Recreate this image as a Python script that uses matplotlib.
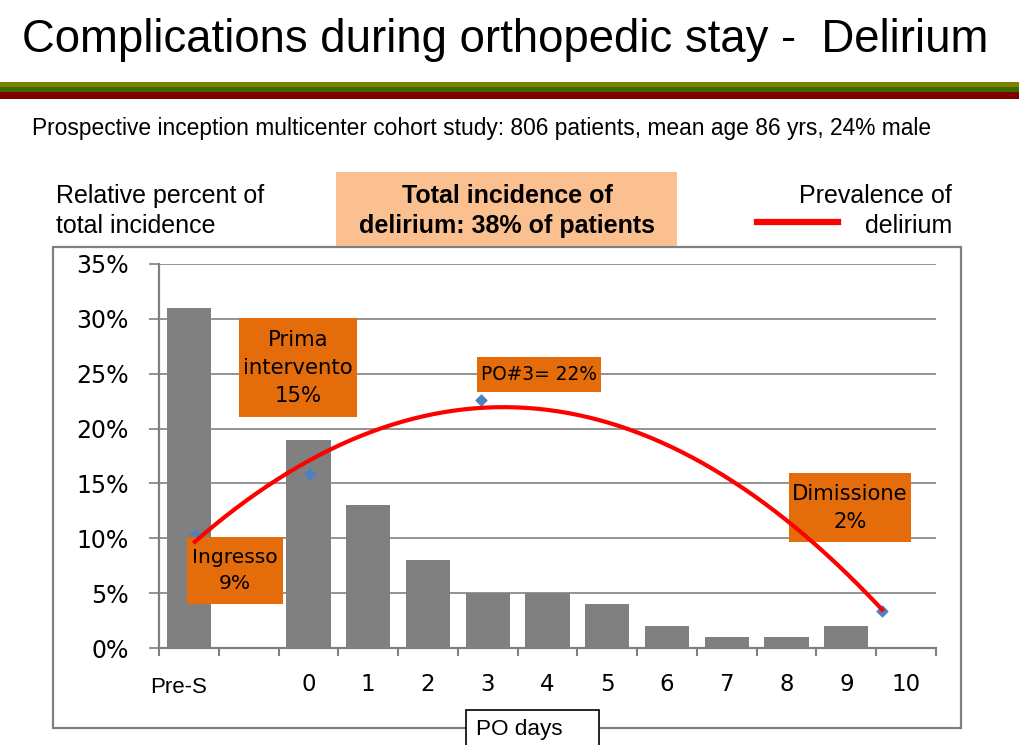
import numpy as np
import matplotlib.pyplot as plt
from matplotlib.patches import Rectangle

# data
categories = ['Pre-S', '', '0', '1', '2', '3', '4', '5', '6', '7', '8', '9', '10']
incidence = [31, np.nan, 19, 13, 8, 5, 5, 4, 2, 1, 1, 2, np.nan]  # relative % of total incidence

# prevalence markers (x in category units, value in %)
prev_x = [0.1, 2.03, 4.89, 11.6]
prev_y = [10.3, 15.9, 22.6, 3.4]

yticks = [0, 5, 10, 15, 20, 25, 30, 35]

W, H = 1020, 745
GRAY = '#808080'
ORANGE = '#E46C0A'
PEACH = '#FAC090'


def fx(px):
    return px / W


def fy(py):
    return 1 - py / H


fig = plt.figure(figsize=(W / 100, H / 100), dpi=100)

# title + stripes
fig.text(fx(22), fy(40), 'Complications during orthopedic stay -  Delirium',
         family='Liberation Sans', fontsize=32.8, va='center', ha='left')
for y0, y1, c in [(82, 87, '#7F8000'), (87, 92, '#3B6B00'), (92, 99, '#800000')]:
    fig.patches.append(Rectangle((0, fy(y1)), 1, (y1 - y0) / H, transform=fig.transFigure,
                                 color=c, lw=0))

fig.text(fx(32), fy(128), 'Prospective inception multicenter cohort study: 806 patients, mean age 86 yrs, 24% male',
         family='Liberation Sans', fontsize=16.4, va='center', ha='left')

# outer frame of the chart
fig.patches.append(Rectangle((fx(53), fy(728)), (961 - 53) / W, (728 - 247) / H,
                             transform=fig.transFigure, fill=False, ec=GRAY, lw=1.6))

fig.text(fx(56), fy(211), 'Relative percent of\ntotal incidence', family='Liberation Sans',
         fontsize=18, va='center', ha='left', linespacing=1.36)

fig.patches.append(Rectangle((fx(336), fy(246)), (677 - 336) / W, (246 - 172) / H,
                             transform=fig.transFigure, color=PEACH, lw=0))
fig.text(fx(507), fy(211), 'Total incidence of\ndelirium: 38% of patients', family='Liberation Sans',
         fontsize=18, fontweight='bold', va='center', ha='center', linespacing=1.36)

fig.text(fx(952), fy(211), 'Prevalence of\ndelirium', family='Liberation Sans',
         fontsize=18, va='center', ha='right', multialignment='right', linespacing=1.36)
fig.lines.append(plt.Line2D([fx(757), fx(838)], [fy(222), fy(222)], transform=fig.transFigure,
                            color='#FF0000', lw=4.5))

# chart
ax = fig.add_axes([fx(159), fy(648), (936 - 159) / W, (648 - 264) / H])
x = np.arange(len(categories))
ax.bar(x, incidence, width=0.74, color=GRAY, zorder=2)

ax.set_xlim(-0.5, 12.5)
ax.set_ylim(0, 35)
ax.set_yticks(yticks)
ax.set_yticklabels([f'{v}%' for v in yticks], family='DejaVu Sans', fontsize=17)
ax.yaxis.grid(True, color=GRAY, lw=1.2, zorder=0)
ax.set_axisbelow(True)
ax.tick_params(axis='y', length=7, width=1.2, color=GRAY, pad=15)

ax.set_xticks(np.arange(-0.5, 13, 1))
ax.set_xticklabels([])
ax.tick_params(axis='x', which='major', length=6, width=1.5, color=GRAY)
ax.set_xticks(x[1:], minor=True)
ax.set_xticklabels(categories[1:], minor=True, family='DejaVu Sans', fontsize=16.5)
ax.tick_params(axis='x', which='minor', length=0, pad=18)
# first category label sits a bit lower and left, in the other font
ax.text(x[0] - 0.17, -0.102, categories[0], transform=ax.get_xaxis_transform(),
        family='Liberation Sans', fontsize=16, ha='center', va='center')

for s in ['top', 'right']:
    ax.spines[s].set_visible(False)
for s in ['left', 'bottom']:
    ax.spines[s].set_color(GRAY)
    ax.spines[s].set_linewidth(1.6)

# trendline through the prevalence points
coef = np.polyfit(prev_x, prev_y, 2)
xs = np.linspace(prev_x[0], prev_x[-1], 200)
ax.plot(xs, np.polyval(coef, xs), color='#FF0000', lw=3, zorder=5, clip_on=False)
ax.scatter(prev_x, prev_y, marker='D', s=30, color='#4F81BD', zorder=3, clip_on=False)

# orange label boxes
boxes = [
    ((239, 318, 357, 417), 'Prima\nintervento\n15%', 15.3),
    ((187, 537, 283, 604), 'Ingresso\n9%', 14.6),
    ((477, 357, 601, 392), 'PO#3= 22%', 13.4),
    ((789, 473, 911, 542), 'Dimissione\n2%', 15.2),
]
for (x0, y0, x1, y1), txt, fs in boxes:
    ax.add_patch(Rectangle((fx(x0), fy(y1)), (x1 - x0) / W, (y1 - y0) / H,
                           transform=fig.transFigure, color=ORANGE, lw=0, zorder=4, clip_on=False))
    ax.text(fx((x0 + x1) / 2), fy((y0 + y1) / 2), txt, transform=fig.transFigure,
            family='DejaVu Sans', fontsize=fs, ha='center', va='center', zorder=4.5,
            linespacing=1.5)

# PO days box
fig.patches.append(Rectangle((fx(466), fy(748)), (599 - 466) / W, (748 - 710) / H,
                             transform=fig.transFigure, fc='white', ec='black', lw=1.2))
fig.text(fx(476), fy(730), 'PO days', family='Liberation Sans', fontsize=16.2, va='center', ha='left')

fig.savefig('out.png', dpi=100)
